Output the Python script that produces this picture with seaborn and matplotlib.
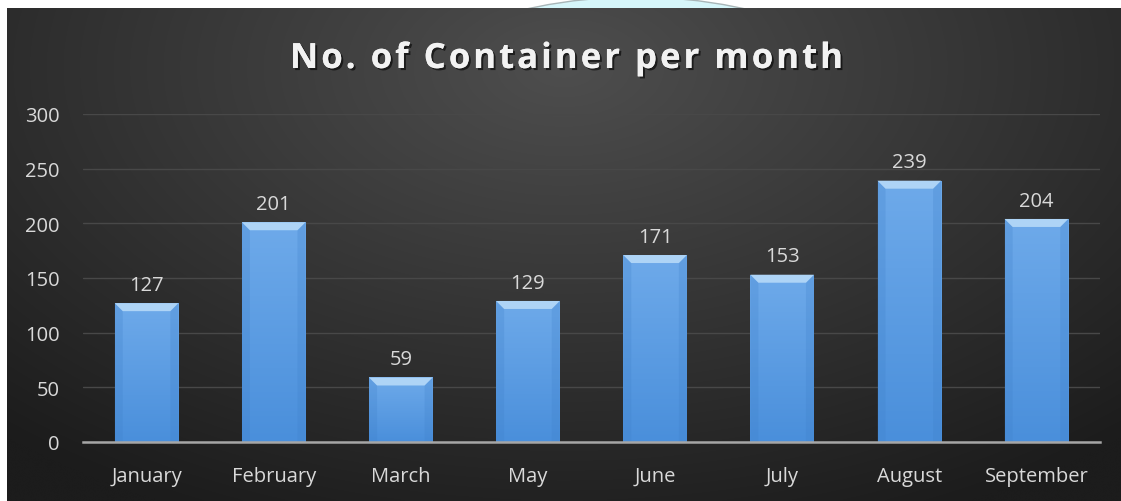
import numpy as np
import pandas as pd
import matplotlib
matplotlib.use("Agg")
import matplotlib.pyplot as plt
from matplotlib.patches import Ellipse, Polygon
from matplotlib.colors import LinearSegmentedColormap
import matplotlib.patheffects as pe
import seaborn as sns

months = ["January", "February", "March", "May", "June", "July", "August", "September"]
containers = [127, 201, 59, 129, 171, 153, 239, 204]
yticks = [0, 50, 100, 150, 200, 250, 300]
title = "No. of Container per month"

sns.set_theme(style="dark")
plt.rcParams['font.family'] = ['Open Sans', 'DejaVu Sans']

W, H = 1121, 502
fig = plt.figure(figsize=(W / 100, H / 100), dpi=100)
fig.patch.set_facecolor("white")

# decorative arc at the top (behind the dark panel)
arc = Ellipse((636 / W, 1 - 505 / H), 1014 / W, 1014 / H, transform=fig.transFigure,
              facecolor="#d6f6fa", edgecolor="#a9b6b8", lw=1.0, zorder=-5)
fig.patches.append(arc)

# background radial gradient panel
bg = fig.add_axes([7 / W, 0, 1 - 7 / W, (H - 9) / H])
bg.set_axis_off()
yy, xx = np.mgrid[0:1:300j, 0:1:600j]
r = np.sqrt(((xx - 0.5) / 0.75) ** 2 + ((yy - 0.12) / 1.0) ** 2)
r = np.clip(r, 0, 1)
c0 = np.array([0x4e, 0x4e, 0x4e]) / 255
c1 = np.array([0x1c, 0x1c, 0x1c]) / 255
img = c0[None, None, :] * (1 - r[..., None]) + c1[None, None, :] * r[..., None]
bg.imshow(img, aspect="auto", extent=[0, 1, 1, 0], interpolation="bicubic")
bg.set_xlim(0, 1)
bg.set_ylim(1, 0)

ax = fig.add_axes([83 / W, 59 / H, (1100 - 83) / W, (387 - 59) / H])
ax.patch.set_alpha(0)
df = pd.DataFrame({"month": months, "n": containers})
sns.barplot(data=df, x="month", y="n", color="#5b9bd5", width=0.5, ax=ax,
            saturation=1, zorder=3, edgecolor="none")

ax.set_ylim(0, 300)
ax.set_xlim(-0.5, len(months) - 0.5)
ax.set_yticks(yticks)
ax.set_yticklabels([str(t) for t in yticks], color="#d9d9d9", fontsize=14.5)
ax.set_xticklabels(months, color="#d9d9d9", fontsize=14.5)
ax.tick_params(axis="y", length=0, pad=17)
ax.tick_params(axis="x", length=0, pad=17)
ax.set_xlabel("")
ax.set_ylabel("")
for s in ["top", "right", "left"]:
    ax.spines[s].set_visible(False)
ax.spines["bottom"].set_color("#a6a6a6")
ax.spines["bottom"].set_linewidth(1.8)
ax.spines["bottom"].set_zorder(5)
ax.yaxis.grid(True, color="#484848", lw=1.0, zorder=0)
ax.xaxis.grid(False)

# gradient + bevel on bars
grad = np.linspace(0, 1, 100).reshape(-1, 1)
cmap = LinearSegmentedColormap.from_list("b", ["#4a8fdb", "#6eaaea"])
dx = 8 / 127
dy = 8 / (54.7 / 50)
for p in list(ax.patches):
    x, w, h = p.get_x(), p.get_width(), p.get_height()
    im = ax.imshow(grad, cmap=cmap, extent=[x, x + w, 0, h], aspect="auto",
                   origin="lower", zorder=3.1)
    im.set_clip_path(p)
    ax.add_patch(Polygon([(x, h), (x + w, h), (x + w - dx, h - dy), (x + dx, h - dy)],
                         closed=True, facecolor="#aed4f6", edgecolor="none", zorder=3.3))
    ax.add_patch(Polygon([(x, h), (x + dx, h - dy), (x + dx, 0), (x, 0)],
                         closed=True, facecolor="#3f80c9", alpha=0.25, edgecolor="none", zorder=3.2))
    ax.add_patch(Polygon([(x + w, h), (x + w - dx, h - dy), (x + w - dx, 0), (x + w, 0)],
                         closed=True, facecolor="#3f80c9", alpha=0.25, edgecolor="none", zorder=3.2))
ax.set_xlim(-0.5, len(months) - 0.5)
ax.set_ylim(0, 300)

for i, v in enumerate(containers):
    ax.annotate(str(v), (i, v), xytext=(0, 6), textcoords="offset points",
                ha="center", va="bottom", color="#d9d9d9", fontsize=14.5)

# title with letter spacing
renderer = fig.canvas.get_renderer()
tkw = dict(fontsize=25, fontweight="bold", color="#f2f2f2", va="baseline", ha="left")
shadow = [pe.withSimplePatchShadow(offset=(1.5, -1.5), shadow_rgbFace="black", alpha=0.6), pe.Normal()]


def text_width(s):
    if not s:
        return 0.0
    t = fig.text(0, 0, s, **tkw)
    w = t.get_window_extent(renderer).width
    t.remove()
    return w


full_w = text_width(title)
target_w = 843 - 290
spacing = max((target_w - full_w) / (len(title) - 1), 0)
x0 = 290
ty = 1 - 69 / H
for i, ch in enumerate(title):
    if ch == " ":
        continue
    px = x0 + text_width(title[:i].replace(" ", "\u00a0")) + i * spacing
    fig.text(px / W, ty, ch, path_effects=shadow, **tkw)

fig.savefig("out.png", dpi=100, facecolor=fig.get_facecolor())
